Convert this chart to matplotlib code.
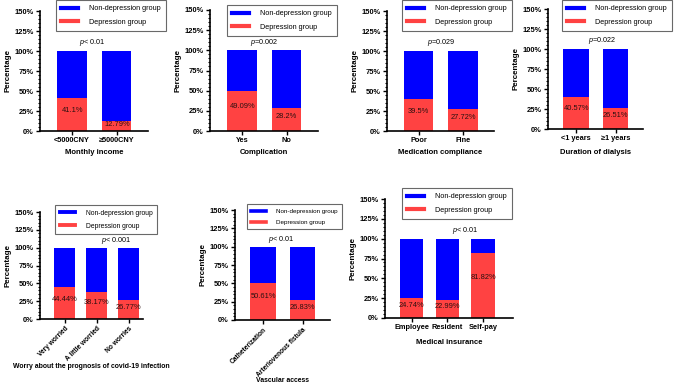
import matplotlib
matplotlib.use('Agg')
import matplotlib.pyplot as plt
from matplotlib.lines import Line2D
from matplotlib.ticker import MultipleLocator, FuncFormatter

plt.rcParams['font.family'] = ['Liberation Sans', 'DejaVu Sans']
plt.rcParams['mathtext.fontset'] = 'custom'
plt.rcParams['mathtext.it'] = 'Liberation Sans:italic'
plt.rcParams['mathtext.rm'] = 'Liberation Sans'

# data: percentage of depression group in each category
income_cats = ['<5000CNY', '≥5000CNY']
income_dep = [41.1, 12.79]
complication_cats = ['Yes', 'No']
complication_dep = [49.09, 28.2]
compliance_cats = ['Poor', 'Fine']
compliance_dep = [39.5, 27.72]
dialysis_cats = ['<1 years', '≥1 years']
dialysis_dep = [40.57, 26.51]
worry_cats = ['Very worried', 'A little worried', 'No worries']
worry_dep = [44.44, 38.17, 26.77]
vascular_cats = ['Catheterization', 'Arteriovenous fistula']
vascular_dep = [50.61, 26.83]
insurance_cats = ['Employee', 'Resident', 'Self-pay']
insurance_dep = [24.74, 22.99, 81.82]

panels = [
    ('Monthly income', income_cats, income_dep, '$p$< 0.01'),
    ('Complication', complication_cats, complication_dep, '$p$=0.002'),
    ('Medication compliance', compliance_cats, compliance_dep, '$p$=0.029'),
    ('Duration of dialysis', dialysis_cats, dialysis_dep, '$p$=0.022'),
    ('Worry about the prognosis of covid-19 infection', worry_cats, worry_dep, '$p$< 0.001'),
    ('Vascular access', vascular_cats, vascular_dep, '$p$< 0.01'),
    ('Medical insurance', insurance_cats, insurance_dep, '$p$< 0.01'),
]

# layout in pixels: (left, right, top(150%), bottom(0%)), legend (x, y), p-text x,
# rotation, x-text scale, legend scale, xlabel y
W, H = 676, 385
layout = [
    ((40, 148, 11, 131), (56, 0), 0.45, 0, 1.0, 1.0, 153),
    ((210, 318, 10, 131), (227, 5), 0.5, 0, 1.0, 1.0, 153),
    ((387, 494, 11, 131), (402, 0), 0.5, 0, 1.0, 1.0, 153),
    ((548, 643, 9, 129), (562, 0), 0.65, 0, 1.0, 1.0, 152),
    ((40, 143, 212, 319), (55, 205), 0.8, 45, 0.9, 0.93, 366),
    ((235, 330, 210, 320), (247, 204), 0.45, 45, 0.9, 0.87, 380),
    ((385, 513, 199, 318), (402, 188), 0.75, 0, 1.0, 1.0, 343),
]

BLUE = '#0000FF'
RED = '#FF4242'

fig = plt.figure(figsize=(W / 100, H / 100), dpi=100)

for (xlabel, cats, dep, ptxt), ((x0, x1, yt, yb), (lx, ly), px, rot, xs_fs, lg_fs, xly) in zip(panels, layout):
    ax = fig.add_axes([x0 / W, 1 - yb / H, (x1 - x0) / W, (yb - yt) / H])
    n = len(cats)
    xs = list(range(n))
    non_dep = [100 - v for v in dep]
    ax.bar(xs, dep, width=0.66, color=RED)
    ax.bar(xs, non_dep, bottom=dep, width=0.66, color=BLUE)
    for x, v in zip(xs, dep):
        ax.text(x, v * 0.62, f'{v:g}%', ha='center', va='center', fontsize=5.4, color='#2a1010')
    ax.text(px * (n - 1), 110, ptxt, ha='center', va='center', fontsize=5.2)

    ax.set_ylim(0, 150)
    if n == 3 and rot == 0:
        ax.set_xlim(-0.74, 2.83)
    elif n == 3:
        ax.set_xlim(-0.78, 2.45)
    else:
        ax.set_xlim(-0.72, 1.7)
    ax.yaxis.set_major_locator(MultipleLocator(25))
    ax.yaxis.set_minor_locator(MultipleLocator(5))
    ax.yaxis.set_major_formatter(FuncFormatter(lambda v, _: f'{v:.0f}%'))
    ax.set_xticks(xs)
    if rot:
        ax.set_xticklabels(cats, rotation=45, ha='right', rotation_mode='anchor')
    else:
        ax.set_xticklabels(cats)
    for lab in ax.get_xticklabels() + ax.get_yticklabels():
        lab.set_fontweight('bold')
    ax.tick_params(axis='y', labelsize=5.4, width=1, length=3, pad=1.5)
    ax.tick_params(axis='x', labelsize=5.3 * xs_fs, width=1, length=3, pad=1.5)
    ax.tick_params(axis='y', which='minor', width=0.8, length=1.8)
    for s in ['top', 'right']:
        ax.spines[s].set_visible(False)
    for s in ['left', 'bottom']:
        ax.spines[s].set_linewidth(1.2)
    ax.set_ylabel('Percentage', fontsize=5.8, fontweight='bold', labelpad=2)
    ax.set_xlabel(xlabel, fontsize=5.5 * xs_fs, fontweight='bold')
    # put the x label at a fixed pixel height
    ax.xaxis.set_label_coords(0.5, (yb - xly) / (yb - yt), transform=ax.transAxes)
    ax.xaxis.label.set_va('center')

    handles = [Line2D([0], [0], color=BLUE, lw=3 * lg_fs), Line2D([0], [0], color=RED, lw=3 * lg_fs)]
    leg = ax.legend(handles, ['Non-depression group', 'Depression group'], loc='upper left',
                    bbox_to_anchor=(lx / W, 1 - ly / H), bbox_transform=fig.transFigure,
                    fontsize=5.2 * lg_fs, frameon=True, fancybox=False, edgecolor='#444444',
                    handlelength=2.3, handletextpad=1.6, labelspacing=0.9, borderpad=0.7,
                    borderaxespad=0)
    leg.get_frame().set_linewidth(0.8)

fig.savefig('out.png', dpi=100)
